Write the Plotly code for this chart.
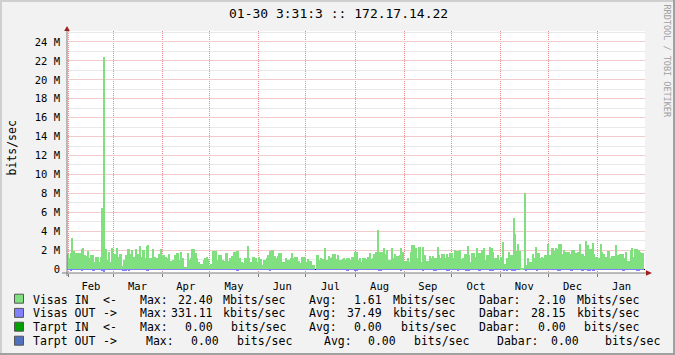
import plotly.graph_objects as go
import pandas as pd

# ---------------- data ----------------
title_text = "01-30 3:31:3 :: 172.17.14.22"
y_axis_title = "bits/sec"
watermark = "RRDTOOL / TOBI OETIKER"

# daily "Visas IN" traffic, Mbit/s (day 0 = Jan 31)
visas_in_mbps = [
    1.55, 1.13, 1.65, 3.24, 1.9, 1.65, 1.65, 1.65, 1.65, 2.08,
    2.18, 1.48, 1.41, 1.9, 1.13, 1.5, 1.48, 0.7, 1.3, 1.27,
    0.77, 1.23, 6.5, 22.4, 2.11, 0.95, 1.76, 0.77, 2.25, 1.55,
    1.55, 2.18, 1.3, 1.55, 1.55, 0.35, 0.95, 1.48, 2.11, 2.11,
    1.55, 2.0, 1.3, 2.11, 1.55, 1.55, 2.39, 1.3, 2.0, 1.13,
    2.39, 2.54, 1.13, 1.13, 2.11, 1.3, 1.13, 1.13, 1.55, 2.11,
    1.48, 1.48, 1.3, 1.13, 1.55, 0.85, 0.85, 0.95, 1.48, 1.65,
    1.65, 0.95, 1.76, 1.13, 0.25, 0.25, 1.65, 0.95, 1.13, 2.11,
    2.11, 1.65, 1.13, 0.7, 0.5, 0.5, 0.95, 1.13, 1.3, 1.02,
    0.42, 0.5, 1.9, 1.9, 1.9, 0.95, 1.48, 1.48, 0.95, 0.85,
    1.65, 1.65, 0.85, 1.2, 1.41, 1.83, 1.83, 1.9, 1.9, 1.13,
    0.77, 0.67, 1.2, 1.2, 2.39, 1.13, 0.77, 1.27, 1.27, 1.2,
    0.7, 1.27, 1.06, 0.42, 0.95, 0.95, 1.2, 1.48, 1.9, 2.0,
    2.0, 1.41, 1.13, 1.34, 1.69, 1.69, 0.7, 0.77, 1.13, 0.99,
    0.99, 1.2, 1.69, 1.13, 1.27, 1.27, 0.85, 0.6, 1.27, 1.27,
    1.3, 0.77, 1.06, 0.85, 0.85, 0.42, 0.42, 0.0, 1.48, 0.92,
    1.2, 1.06, 1.06, 2.25, 0.95, 1.41, 1.13, 1.3, 1.55, 1.55,
    1.06, 1.48, 0.95, 0.95, 1.06, 1.2, 0.95, 1.13, 1.13, 0.92,
    1.27, 1.27, 1.76, 1.76, 0.95, 1.2, 0.77, 1.2, 1.2, 1.06,
    1.27, 1.69, 1.06, 1.2, 1.55, 1.76, 4.1, 1.83, 1.76, 1.76,
    2.18, 1.55, 2.04, 0.95, 0.95, 2.18, 1.13, 1.55, 1.41, 1.41,
    1.48, 2.18, 1.76, 0.85, 0.85, 1.13, 0.77, 1.83, 2.54, 2.54,
    2.18, 1.13, 2.32, 2.32, 0.77, 2.32, 1.48, 0.85, 0.85, 1.41,
    1.13, 1.41, 1.13, 1.13, 2.32, 1.48, 1.13, 1.55, 1.55, 1.13,
    1.62, 1.27, 1.69, 1.69, 1.13, 2.04, 1.9, 1.9, 2.04, 1.06,
    1.2, 1.55, 1.55, 2.39, 1.48, 0.77, 1.69, 1.69, 1.27, 2.25,
    1.69, 1.69, 2.04, 2.25, 0.99, 1.48, 1.48, 2.32, 2.25, 1.83,
    1.2, 1.2, 1.48, 0.99, 1.3, 2.82, 0.49, 0.49, 1.13, 1.83,
    1.48, 1.48, 5.4, 3.66, 1.9, 2.6, 1.9, 0.15, 0.15, 8.0,
    0.42, 1.13, 0.77, 0.77, 1.55, 1.13, 2.32, 1.69, 1.69, 1.13,
    1.27, 1.13, 1.48, 1.48, 2.6, 1.48, 2.18, 2.18, 1.9, 2.25,
    2.11, 2.6, 2.6, 1.62, 2.0, 1.76, 1.83, 1.83, 1.62, 2.04,
    1.97, 1.69, 1.69, 1.83, 2.6, 1.62, 1.62, 1.34, 2.96, 2.54,
    2.11, 2.11, 2.71, 1.62, 1.27, 1.2, 1.2, 2.6, 1.83, 1.62,
    1.27, 1.27, 1.9, 1.2, 1.41, 1.41, 1.41, 2.54, 1.48, 1.55,
    1.55, 1.62, 1.13, 1.83, 0.85, 0.85, 2.04, 2.25, 1.27, 2.11,
    2.11, 2.04, 1.76, 1.69, 1.69,
]

# daily "Visas OUT" traffic, kbit/s (drawn below the zero line)
visas_out_kbps = [
    12, 10, 160, 14, 11, 13, 12, 10, 15, 150,
    12, 11, 13, 10, 12, 14, 170, 160, 11, 12,
    13, 10, 250, 331, 14, 12, 11, 10, 13, 12,
    11, 12, 10, 13, 12, 170, 180, 160, 14, 150,
    12, 11, 10, 13, 12, 11, 14, 12, 10, 13,
    170, 160, 12, 11, 13, 10, 12, 14, 11, 12,
    10, 12, 13, 11, 12, 10, 14, 12, 11, 13,
    12, 10, 11, 13, 9, 8, 12, 11, 10, 13,
    12, 11, 10, 9, 8, 9, 11, 12, 10, 11,
    8, 9, 12, 13, 11, 10, 12, 11, 10, 9,
    12, 11, 10, 11, 12, 13, 12, 150, 160, 11,
    10, 9, 11, 12, 14, 11, 10, 12, 11, 12,
    10, 11, 12, 9, 10, 11, 12, 13, 150, 12,
    13, 12, 11, 12, 13, 12, 10, 10, 11, 10,
    11, 12, 13, 11, 12, 12, 10, 9, 12, 11,
    12, 10, 11, 10, 10, 9, 8, 0, 12, 10,
    11, 10, 11, 13, 10, 12, 11, 12, 13, 12,
    11, 12, 10, 10, 11, 12, 10, 140, 11, 10,
    12, 11, 160, 150, 10, 11, 10, 12, 12, 11,
    12, 13, 11, 12, 13, 13, 15, 170, 160, 13,
    14, 12, 13, 10, 11, 14, 12, 13, 12, 12,
    12, 150, 13, 11, 10, 11, 10, 13, 14, 14,
    13, 11, 14, 13, 10, 140, 12, 11, 10, 12,
    11, 12, 160, 150, 14, 12, 11, 13, 12, 11,
    160, 150, 13, 12, 11, 14, 13, 140, 14, 11,
    12, 13, 170, 180, 160, 10, 13, 12, 12, 14,
    170, 160, 14, 14, 11, 12, 12, 170, 180, 160,
    12, 11, 12, 11, 12, 14, 150, 10, 140, 13,
    12, 170, 180, 160, 13, 14, 13, 8, 8, 15,
    150, 11, 10, 10, 12, 11, 14, 140, 12, 11,
    12, 11, 12, 12, 14, 12, 13, 13, 13, 14,
    170, 160, 14, 12, 13, 12, 13, 13, 160, 150,
    13, 12, 12, 13, 14, 170, 160, 12, 15, 150,
    160, 13, 170, 160, 12, 11, 11, 14, 13, 12,
    11, 11, 13, 11, 12, 12, 12, 14, 12, 12,
    12, 160, 150, 13, 10, 10, 13, 14, 11, 13,
    170, 160, 13, 12, 12,
]

first_day_center = "2022-01-31 10:00"
x_range = ["2022-01-30 22:00", "2023-01-31 07:36"]

y_tick_vals = [0, 2e6, 4e6, 6e6, 8e6, 10e6, 12e6, 14e6, 16e6, 18e6, 20e6, 22e6, 24e6]
y_tick_text = ["0", "2 M", "4 M", "6 M", "8 M", "10 M", "12 M", "14 M", "16 M",
               "18 M", "20 M", "22 M", "24 M"]

legend_names = ["Visas IN", "Visas OUT", "Tarpt IN", "Tarpt OUT"]
legend_dirs = ["<-", "->", "<-", "->"]
legend_colors = ["#80E080", "#8080FF", "#00A000", "#5070C0"]
max_vals = ["22.40", "331.11", "0.00", "0.00"]
max_units = ["Mbits/sec", "kbits/sec", "bits/sec", "bits/sec"]
avg_vals = ["1.61", "37.49", "0.00", "0.00"]
avg_units = ["Mbits/sec", "kbits/sec", "bits/sec", "bits/sec"]
dabar_vals = ["2.10", "28.15", "0.00", "0.00"]
dabar_units = ["Mbits/sec", "kbits/sec", "bits/sec", "bits/sec"]

# ---------------- layout geometry (pixels) ----------------
W, H = 675, 355
PL, PR, PT, PB = 67, 645, 31, 273
FONT = "DejaVu Sans Mono"


def px_x(px):
    return (px - PL) / (PR - PL)


def px_y(py):
    return (PB - py) / (PB - PT)


days = pd.date_range(first_day_center, periods=len(visas_in_mbps), freq="D")
day_ms = 86400000

fig = go.Figure()
fig.add_trace(go.Bar(
    x=days, y=[-v * 1e3 for v in visas_out_kbps], width=day_ms,
    marker=dict(color="#8080FF", line=dict(width=0)), showlegend=False,
))
fig.add_trace(go.Bar(
    x=days, y=[v * 1e6 for v in visas_in_mbps], width=day_ms,
    marker=dict(color="#80E080", line=dict(width=0)), showlegend=False,
))

major_grid = "#E28C8C"

fig.update_layout(
    width=W, height=H,
    margin=dict(l=PL, r=W - PR, t=PT, b=H - PB, pad=0),
    paper_bgcolor="#F2F2F2", plot_bgcolor="#FFFFFF",
    barmode="overlay", bargap=0,
    showlegend=False,
    font=dict(family=FONT, color="#000000"),
    xaxis=dict(
        type="date", range=x_range,
        dtick="M1", tick0="2022-01-01", tickformat="%b", ticklabelmode="period",
        showgrid=True, gridcolor=major_grid, griddash="1px,1px", gridwidth=1,
        ticks="outside", ticklen=3, tickcolor="#7A7A7A",
        tickfont=dict(family=FONT, size=10.5, color="#000000"),
        showline=False, zeroline=False, fixedrange=True,
    ),
    yaxis=dict(
        range=[-0.42e6, 25.16e6],
        tickmode="array", tickvals=y_tick_vals, ticktext=y_tick_text,
        showgrid=True, gridcolor="#F3CACA", griddash="solid", gridwidth=1,
        minor=dict(tickmode="linear", tick0=0, dtick=1e6, showgrid=True,
                   gridcolor="#E9E9E9", griddash="solid", ticks=""),
        ticks="", ticklabelstandoff=6,
        tickfont=dict(family=FONT, size=10.5, color="#000000"),
        zeroline=True, zerolinecolor="#000000", zerolinewidth=1.2,
        showline=False, fixedrange=True,
    ),
)

shapes = []
axis_col = "#7A7A7A"
arrow_col = "#A02020"
# y axis line + arrow
shapes.append(dict(type="line", xref="paper", yref="paper",
                   x0=px_x(67), x1=px_x(67), y0=px_y(276), y1=px_y(29),
                   line=dict(color=axis_col, width=1)))
shapes.append(dict(type="path", xref="paper", yref="paper",
                   path=f"M {px_x(64.2)} {px_y(31)} L {px_x(67)} {px_y(26)} L {px_x(69.8)} {px_y(31)} Z",
                   fillcolor=arrow_col, line=dict(width=0)))
# x axis line + arrow
shapes.append(dict(type="line", xref="paper", yref="paper",
                   x0=px_x(62), x1=px_x(648), y0=px_y(273), y1=px_y(273),
                   line=dict(color=axis_col, width=1)))
shapes.append(dict(type="path", xref="paper", yref="paper",
                   path=f"M {px_x(646)} {px_y(270.2)} L {px_x(652)} {px_y(273)} L {px_x(646)} {px_y(275.8)} Z",
                   fillcolor=arrow_col, line=dict(width=0)))
# outer frame
shapes.append(dict(type="rect", xref="paper", yref="paper",
                   x0=px_x(0), x1=px_x(W), y0=px_y(0), y1=px_y(2),
                   fillcolor="#CFCFCF", line=dict(width=0)))
shapes.append(dict(type="rect", xref="paper", yref="paper",
                   x0=px_x(0), x1=px_x(2), y0=px_y(0), y1=px_y(H),
                   fillcolor="#CFCFCF", line=dict(width=0)))
shapes.append(dict(type="rect", xref="paper", yref="paper",
                   x0=px_x(0), x1=px_x(W), y0=px_y(H - 2), y1=px_y(H),
                   fillcolor="#A0A0A0", line=dict(width=0)))
shapes.append(dict(type="rect", xref="paper", yref="paper",
                   x0=px_x(W - 2), x1=px_x(W), y0=px_y(0), y1=px_y(H),
                   fillcolor="#A0A0A0", line=dict(width=0)))

annotations = []


def text(px, py, s, anchor="left", size=11.5, color="#000000", angle=0):
    annotations.append(dict(
        xref="paper", yref="paper", x=px_x(px), y=px_y(py), text=s,
        showarrow=False, xanchor=anchor, yanchor="middle", textangle=angle,
        font=dict(family=FONT, size=size, color=color),
    ))


text(338, 14, title_text, anchor="center", size=13)
text(11, 148.5, y_axis_title, anchor="center", size=11.5, angle=-90)
text(666.5, 61, watermark, anchor="center", size=8.5, color="#A0A0A0", angle=90)

row_y = [299.5, 313.3, 327.1, 340.9]
sw_y = [298.7, 312.9, 326.7, 340.7]
cols_std = dict(max_lbl=137.7, max_r=214.5, avg_lbl=307.0, avg_r=384.0,
                dab_lbl=477.3, dab_r=568.0)
cols_last = dict(max_lbl=144.3, max_r=221.0, avg_lbl=322.0, avg_r=397.5,
                 dab_lbl=495.0, dab_r=581.0)
for i in range(4):
    y = row_y[i]
    c = cols_last if i == 3 else cols_std
    shapes.append(dict(type="rect", xref="paper", yref="paper",
                       x0=px_x(14.5), x1=px_x(23.5),
                       y0=px_y(sw_y[i] - 4.5), y1=px_y(sw_y[i] + 4.5),
                       fillcolor=legend_colors[i], line=dict(color="#555555", width=1)))
    text(30.5, y, legend_names[i])
    text(100.5, y, legend_dirs[i])
    text(c["max_lbl"], y, "Max:")
    text(c["max_r"], y, max_vals[i], anchor="right")
    gap1 = 6.5 if max_units[i][0] in "Mk" else 14.0
    text(c["max_r"] + gap1, y, max_units[i])
    text(c["avg_lbl"], y, "Avg:")
    text(c["avg_r"], y, avg_vals[i], anchor="right")
    gap2 = 6.5 if avg_units[i][0] in "Mk" else 14.5
    text(c["avg_r"] + gap2, y, avg_units[i])
    text(c["dab_lbl"], y, "Dabar:")
    text(c["dab_r"], y, dabar_vals[i], anchor="right")
    gap3 = 6.5 if dabar_units[i][0] in "Mk" else 14.0
    if i == 3:
        gap3 = 22.0
        gap2 = 15.0
    text(c["dab_r"] + gap3, y, dabar_units[i])

fig.update_layout(shapes=shapes, annotations=annotations)
fig.write_html("out.html")
